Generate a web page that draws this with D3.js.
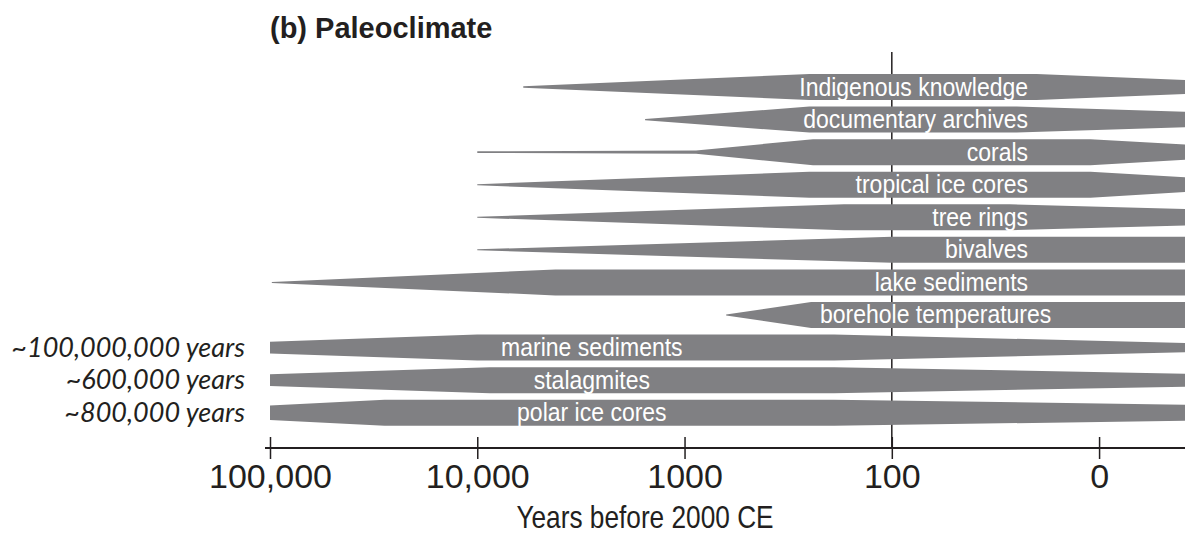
<!DOCTYPE html>
<html>
<head>
<meta charset="utf-8">
<script src="https://cdn.jsdelivr.net/npm/d3@7"></script>
<style>
  body { margin: 0; background: #fff; }
  svg { display: block; }
</style>
</head>
<body>
<svg class="canvas" width="1185" height="538"></svg>
<script>
// proxies, top to bottom
var proxies = ["Indigenous knowledge", "documentary archives", "corals", "tropical ice cores",
               "tree rings", "bivalves", "lake sediments", "borehole temperatures",
               "marine sediments", "stalagmites", "polar ice cores"];

// outline of each band: [years before 2000 CE, relative thickness]
var shapes = [
  [[6000, 0.05], [250, 1], [20, 1], [3.85, 0.54]],
  [[1550, 0.05], [250, 1], [25, 1], [3.85, 0.6]],
  [[10000, 0.06], [880, 0.13], [240, 1], [11, 1], [3.85, 0.58]],
  [[10000, 0.04], [250, 1], [11, 1], [3.85, 0.57]],
  [[10000, 0.04], [170, 1], [27, 1], [3.85, 0.64]],
  [[10000, 0.04], [100, 1], [3.85, 1]],
  [[98000, 0.04], [4200, 1], [3.85, 1]],
  [[630, 0.04], [245, 1], [3.85, 1]],
  [[100000, 0.45], [10000, 1], [190, 1], [3.85, 0.36]],
  [[100000, 0.45], [8700, 1], [190, 1], [3.85, 0.5]],
  [[100000, 0.56], [28000, 1], [190, 1], [3.85, 0.62]]
];

// where the label sits (years) and how it is anchored
var labelYears = [22, 22, 22, 22, 22, 22, 22, 17, 2800, 2800, 2800];
var labelAnchor = ["end", "end", "end", "end", "end", "end", "end", "end", "middle", "middle", "middle"];

// record length notes for the long archives
var recordNotes = ["", "", "", "", "", "", "", "", "~100,000,000 years", "~600,000 years", "~800,000 years"];

var tickValues = [100000, 10000, 1000, 100, 10];
var tickLabels = ["100,000", "10,000", "1000", "100", "0"];

var width = 1185;
var height = 538;
var half = 13;

var svg = d3.select('.canvas');

var x = d3.scaleLog()
    .domain([100000, 3.85])
    .range([270, 1185]);

var y = d3.scalePoint()
    .domain(proxies)
    .range([87, 412.7]);

var axisY = 448;

// title
svg.append("text")
    .attr("x", 270)
    .attr("y", 38)
    .style("font-family", "Liberation Sans, Arial, sans-serif")
    .style("font-weight", "bold")
    .style("font-size", "29px")
    .style("fill", "#231f20")
    .text("(b) Paleoclimate");

// 100-year guide line
svg.append("line")
    .attr("x1", x(100)).attr("x2", x(100))
    .attr("y1", 52).attr("y2", axisY)
    .attr("stroke", "#231f20")
    .attr("stroke-width", 1.5);

var area = d3.area()
    .x(function(d) { return x(d[0]); });

var band = svg.selectAll(".band")
    .data(proxies)
    .enter()
    .append("g")
        .attr("class", "band");

band.append("path")
    .attr("d", function(name, i) {
        var c = y(name);
        return area
            .y0(function(d) { return c - d[1] * half; })
            .y1(function(d) { return c + d[1] * half; })(shapes[i]);
    })
    .style("fill", "#808083");

// labels are slightly condensed, like the original lettering
band.append("text")
    .attr("transform", function(d, i) {
        return "translate(" + x(labelYears[i]) + "," + (y(d) + 8.5) + ") scale(0.92,1)";
    })
    .attr("text-anchor", function(d, i) { return labelAnchor[i]; })
    .style("font-family", "Liberation Sans, Arial, sans-serif")
    .style("font-size", "25px")
    .style("fill", "#ffffff")
    .text(function(d) { return d; });

band.append("text")
    .attr("x", 245)
    .attr("y", function(d) { return y(d) + 9; })
    .attr("text-anchor", "end")
    .style("font-family", "Lato, sans-serif")
    .style("font-style", "italic")
    .style("font-size", "27px")
    .style("fill", "#231f20")
    .text(function(d, i) { return recordNotes[i]; });

// axis
var axis = d3.axisBottom(x)
    .tickValues(tickValues)
    .tickFormat(function(d, i) { return tickLabels[i]; })
    .tickSizeOuter(0)
    .tickSizeInner(11)
    .tickPadding(5);

var gx = svg.append("g")
    .attr("transform", "translate(0," + axisY + ")")
    .call(axis);

gx.select(".domain").remove();
gx.append("line")
    .attr("x1", x.range()[0] - 5).attr("x2", width)
    .attr("y1", 0).attr("y2", 0)
    .attr("stroke", "#231f20")
    .attr("stroke-width", 2);

gx.selectAll(".tick line")
    .attr("y1", -11)
    .attr("y2", 11)
    .attr("stroke", "#231f20")
    .attr("stroke-width", 1.5);

gx.selectAll(".tick text")
    .style("font-family", "Liberation Sans, Arial, sans-serif")
    .style("font-size", "34px")
    .style("fill", "#231f20");

svg.append("text")
    .attr("transform", "translate(645,528) scale(0.82,1)")
    .attr("text-anchor", "middle")
    .style("font-family", "Liberation Sans, Arial, sans-serif")
    .style("font-size", "32px")
    .style("fill", "#231f20")
    .text("Years before 2000 CE");
</script>
</body>
</html>
